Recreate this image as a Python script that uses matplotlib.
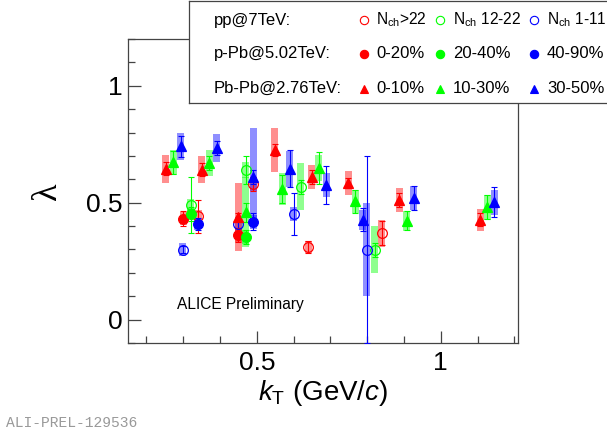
import matplotlib
matplotlib.use("Agg")
import matplotlib.pyplot as plt
from matplotlib.patches import Rectangle
import numpy as np

plt.rcParams['font.family'] = ['Liberation Sans', 'DejaVu Sans']
plt.rcParams['mathtext.fontset'] = 'custom'
plt.rcParams['mathtext.rm'] = 'Liberation Sans'
plt.rcParams['mathtext.it'] = 'Liberation Sans:italic'

# ---------------- data ----------------
# Pb-Pb 2.76 TeV
pbpb_0_10_k = [0.252, 0.350, 0.450, 0.549, 0.649, 0.749, 0.887, 1.107]
pbpb_0_10_l = [0.645, 0.641, 0.439, 0.726, 0.610, 0.584, 0.513, 0.427]
pbpb_0_10_stat = [0.028, 0.028, 0.015, 0.027, 0.030, 0.020, 0.030, 0.027]
pbpb_0_10_sys = [0.060, 0.058, 0.144, 0.094, 0.052, 0.053, 0.051, 0.048]

pbpb_10_30_k = [0.273, 0.371, 0.470, 0.569, 0.669, 0.767, 0.907, 1.126]
pbpb_10_30_l = [0.672, 0.670, 0.459, 0.558, 0.648, 0.506, 0.423, 0.481]
pbpb_10_30_stat = [0.050, 0.030, 0.040, 0.060, 0.070, 0.050, 0.040, 0.050]
pbpb_10_30_sys = [0.055, 0.057, 0.150, 0.069, 0.057, 0.050, 0.043, 0.053]

pbpb_30_50_k = [0.294, 0.391, 0.490, 0.589, 0.689, 0.788, 0.926, 1.146]
pbpb_30_50_l = [0.741, 0.734, 0.610, 0.645, 0.576, 0.427, 0.520, 0.501]
pbpb_30_50_stat = [0.044, 0.030, 0.030, 0.080, 0.082, 0.050, 0.050, 0.064]
pbpb_30_50_sys = [0.059, 0.059, 0.210, 0.078, 0.050, 0.043, 0.050, 0.053]

# pp 7 TeV
pp_hi_k = [0.341, 0.490, 0.640, 0.839]
pp_hi_l = [0.442, 0.581, 0.311, 0.370]
pp_hi_stat = [0.070, 0.030, 0.025, 0.050]
pp_hi_sys = [0.027, 0.030, 0.025, 0.058]

pp_mid_k = [0.320, 0.470, 0.620, 0.821]
pp_mid_l = [0.490, 0.641, 0.568, 0.299]
pp_mid_stat = [0.120, 0.060, 0.030, 0.030]
pp_mid_sys = [0.025, 0.035, 0.100, 0.100]

pp_lo_k = [0.299, 0.450, 0.600, 0.799]
pp_lo_l = [0.299, 0.410, 0.452, 0.299]
pp_lo_stat = [0.015, 0.020, 0.090, 0.400]
pp_lo_sys = [0.028, 0.030, 0.030, 0.200]

# p-Pb 5.02 TeV
ppb_0_20_k = [0.300, 0.450]
ppb_0_20_l = [0.432, 0.363]
ppb_0_20_stat = [0.032, 0.030]
ppb_0_20_sys = [0.028, 0.030]

ppb_20_40_k = [0.320, 0.470]
ppb_20_40_l = [0.453, 0.352]
ppb_20_40_stat = [0.030, 0.030]
ppb_20_40_sys = [0.025, 0.030]

ppb_40_90_k = [0.340, 0.490]
ppb_40_90_l = [0.409, 0.419]
ppb_40_90_stat = [0.025, 0.035]
ppb_40_90_sys = [0.025, 0.030]

RED, GREEN, BLUE = '#ff0000', '#00ff00', '#0000ff'

series = [
    # k, lambda, stat, sys, color, marker, filled
    (pp_hi_k, pp_hi_l, pp_hi_stat, pp_hi_sys, RED, 'o', False),
    (pp_mid_k, pp_mid_l, pp_mid_stat, pp_mid_sys, GREEN, 'o', False),
    (pp_lo_k, pp_lo_l, pp_lo_stat, pp_lo_sys, BLUE, 'o', False),
    (ppb_0_20_k, ppb_0_20_l, ppb_0_20_stat, ppb_0_20_sys, RED, 'o', True),
    (ppb_20_40_k, ppb_20_40_l, ppb_20_40_stat, ppb_20_40_sys, GREEN, 'o', True),
    (ppb_40_90_k, ppb_40_90_l, ppb_40_90_stat, ppb_40_90_sys, BLUE, 'o', True),
    (pbpb_0_10_k, pbpb_0_10_l, pbpb_0_10_stat, pbpb_0_10_sys, RED, '^', True),
    (pbpb_10_30_k, pbpb_10_30_l, pbpb_10_30_stat, pbpb_10_30_sys, GREEN, '^', True),
    (pbpb_30_50_k, pbpb_30_50_l, pbpb_30_50_stat, pbpb_30_50_sys, BLUE, '^', True),
]

BOX_HALF_W = 0.0095

fig = plt.figure(figsize=(6.07, 4.34), dpi=100)
ax = fig.add_axes([128/607, 1 - 343/434, (518-128)/607, (343-39)/434])

frame_col = '#444444'

for k, l, st, sy, col, mk, filled in series:
    for ki, li, si in zip(k, l, sy):
        ax.add_patch(Rectangle((ki - BOX_HALF_W, li - si), 2*BOX_HALF_W, 2*si,
                               facecolor=col, alpha=0.44, edgecolor='none', zorder=1))

for k, l, st, sy, col, mk, filled in series:
    ax.errorbar(k, l, yerr=st, fmt='none', ecolor=col, elinewidth=0.8,
                capsize=2.2, capthick=0.8, zorder=3)
    ax.plot(k, l, linestyle='none', marker=mk, markersize=7 if mk == 'o' else 7.8,
            markerfacecolor=col if filled else 'none', markeredgecolor=col,
            markeredgewidth=0.9, zorder=4)

ax.set_xlim(0.15, 1.21)
ax.set_ylim(-0.1, 1.2)
ax.set_xticks([0.5, 1.0])
ax.set_xticklabels(['0.5', '1'])
ax.set_yticks([0.0, 0.5, 1.0])
ax.set_yticklabels(['0', '0.5', '1'])
ax.set_xticks(np.arange(0.2, 1.21, 0.1), minor=True)
ax.set_yticks(np.arange(-0.1, 1.21, 0.1), minor=True)
ax.tick_params(which='both', direction='in', top=False, right=False,
               color=frame_col, width=0.9, labelsize=19)
ax.tick_params(which='major', length=9, pad=4)
ax.tick_params(which='minor', length=5)
ax.tick_params(axis='x', pad=6)
for sp in ax.spines.values():
    sp.set_color(frame_col)
    sp.set_linewidth(0.9)

ax.set_xlabel(r'$k_{\rm T}$ (GeV/$c$)', fontsize=20, labelpad=2)
ax.set_ylabel('λ', fontsize=26, family=['Liberation Serif', 'DejaVu Serif'],
              rotation=90, labelpad=16)

ax.text(0.126, 0.125, 'ALICE Preliminary', transform=ax.transAxes, fontsize=11.2,
        ha='left', va='center')

fig.text(6/607, 1 - 423/434, 'ALI-PREL-129536', fontsize=10.5, color='#999999',
         family=['Liberation Mono', 'DejaVu Sans Mono'], ha='left', va='center')

# ---------------- legend box ----------------
lax = fig.add_axes([189/607, 1 - 103/434, (610-189)/607, (103-1)/434])
lax.set_xlim(189, 610)
lax.set_ylim(103, 1)
lax.set_xticks([])
lax.set_yticks([])
lax.set_facecolor('white')
for sp in lax.spines.values():
    sp.set_color(frame_col)
    sp.set_linewidth(0.9)
lax.set_zorder(10)

row_titles = ['pp@7TeV:', 'p-Pb@5.02TeV:', 'Pb-Pb@2.76TeV:']
row_labels = [[r'N$_{\rm ch}$>22', r'N$_{\rm ch}$ 12-22', r'N$_{\rm ch}$ 1-11'],
              ['0-20%', '20-40%', '40-90%'],
              ['0-10%', '10-30%', '30-50%']]
row_label_size = [11.2, 12, 12]
row_markers = [('o', False), ('o', True), ('^', True)]
row_y = [20, 53.5, 88.5]
col_marker_x = [364, 440, 534]
col_text_x = [376, 453, 547]
col_colors = [RED, GREEN, BLUE]

for r in range(3):
    lax.text(214, row_y[r], row_titles[r], fontsize=12, ha='left', va='center')
    mk, filled = row_markers[r]
    for c in range(3):
        lax.plot([col_marker_x[c]], [row_y[r]], linestyle='none', marker=mk,
                 markersize=6 if mk == 'o' else 5.5,
                 markerfacecolor=col_colors[c] if filled else 'none',
                 markeredgecolor=col_colors[c], markeredgewidth=0.8)
        lax.text(col_text_x[c], row_y[r], row_labels[r][c], fontsize=row_label_size[r],
                 ha='left', va='center')

fig.savefig('out.png', dpi=100)
